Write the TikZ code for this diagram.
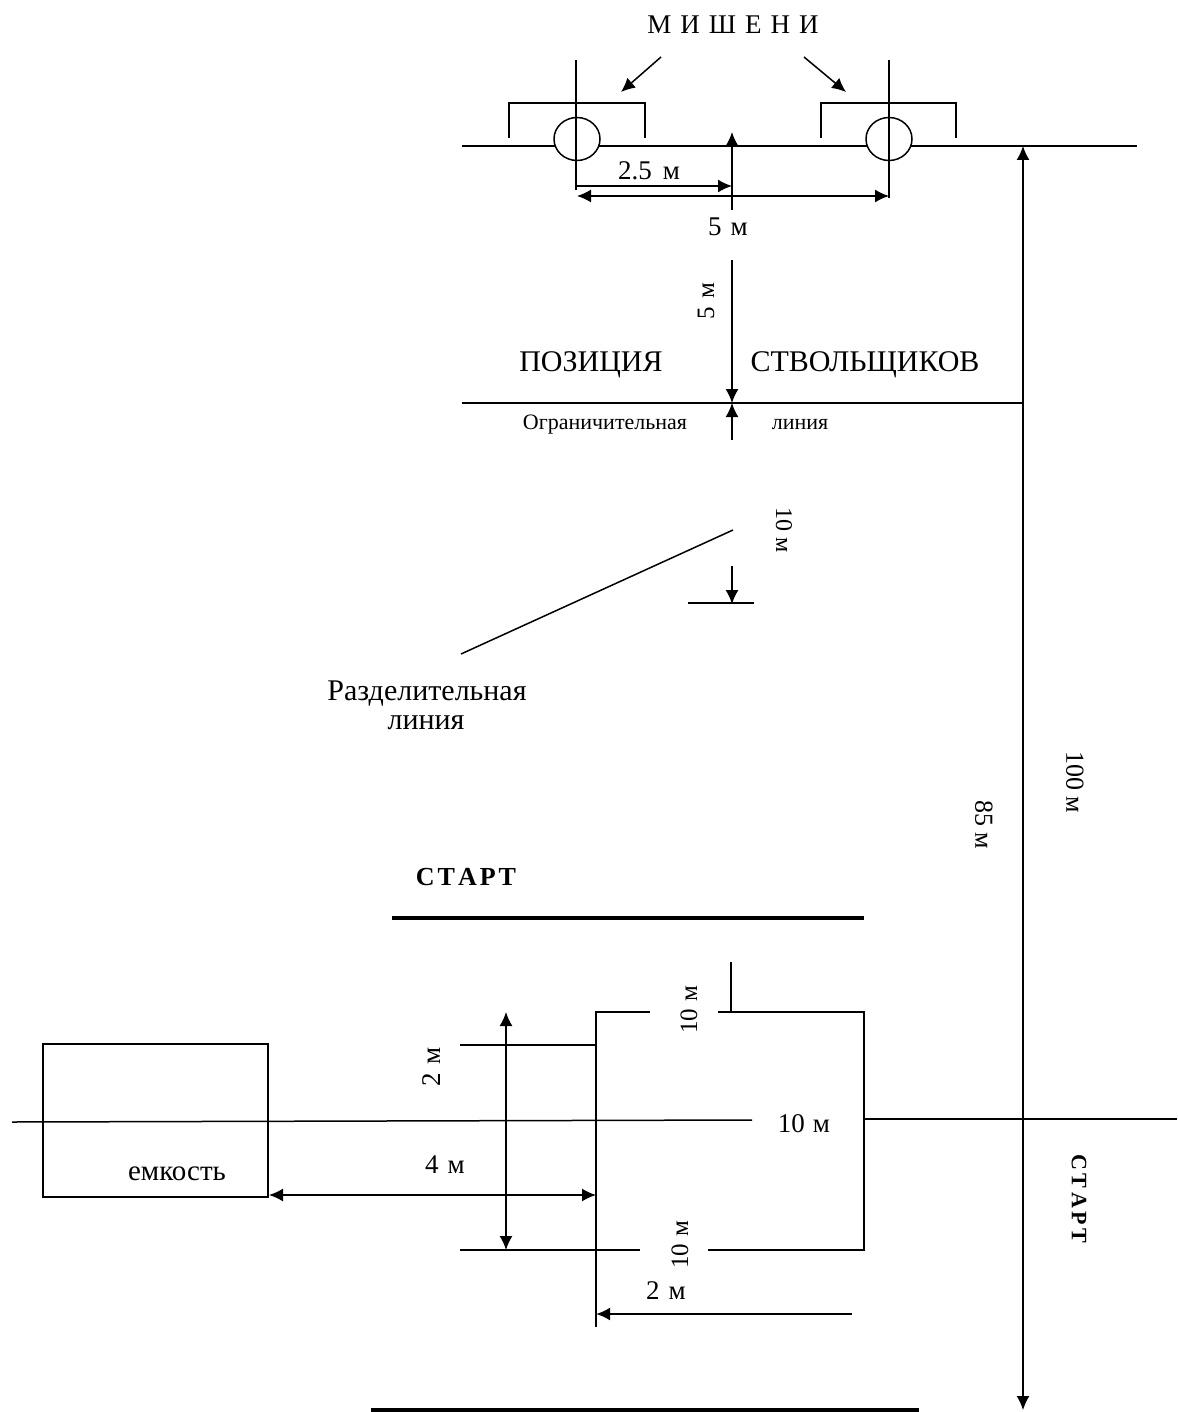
\documentclass[tikz,border=0pt]{standalone}
\usepackage{fontspec}
\setmainfont{Liberation Serif}
\usetikzlibrary{arrows.meta,shapes.geometric}
\newcommand{\gp}{\hspace{9pt}}
\tikzset{
  ln/.style={draw=black,line width=1.5pt},
  thick line/.style={draw=black,line width=3.5pt},
  dim/.style={draw=black,line width=1.5pt},
  tipa/.style={-{Latex[length=14pt,width=13pt]}},
  tipb/.style={{Latex[length=14pt,width=13pt]}-{Latex[length=14pt,width=13pt]}},
  lbl/.style={inner sep=0pt,text=black,font=\fontsize{#1}{#1}\selectfont},
  blbl/.style={inner sep=0pt,text=black,font=\bfseries\fontsize{#1}{#1}\selectfont},
  target/.style={ellipse,draw=black,line width=1.5pt,fill=white,minimum width=46pt,minimum height=43pt,inner sep=0pt},
}
\begin{document}
\begin{tikzpicture}[x=1pt,y=-1pt]
\useasboundingbox (0,0) rectangle (1177,1412);
\fill[white] (0,0) rectangle (1177,1412);
% coordinates
\coordinate (tl0) at (462,146); \coordinate (tl1) at (1137,146);
\coordinate (v1t) at (576,60); \coordinate (v1b) at (576,190);
\coordinate (v2t) at (889,60); \coordinate (v2b) at (889,198);
\coordinate (mid) at (732,132);
% top line and targets
\draw[ln] (tl0) -- (tl1);
\draw[ln] (509,138) -- (509,103) -- (645,103) -- (645,138);
\draw[ln] (821,138) -- (821,103) -- (956,103) -- (956,138);
\node[target] (t1) at (577,139) {};
\node[target] (t2) at (889,139) {};
\draw[ln] (v1t) -- (v1b);
\draw[ln] (v2t) -- (v2b);
% target labels
\node[lbl=27] (mish) at (733,25) {М\hspace{9pt}И\hspace{9pt}Ш\hspace{9pt}Е\hspace{9pt}Н\hspace{9pt}И};
\coordinate (a1s) at (661,57); \coordinate (a1e) at (621,92);
\coordinate (a2s) at (804,57); \coordinate (a2e) at (846,92);
\draw[dim,tipa] (a1s) -- (a1e);
\draw[dim,tipa] (a2s) -- (a2e);
% dims
\coordinate (d25s) at (576,186); \coordinate (d25e) at (732,186);
\draw[dim,tipa] (d25s) -- (d25e);
\coordinate (d5s) at (577,196); \coordinate (d5e) at (889,196);
\draw[dim,tipb] (d5s) -- (d5e);
\coordinate (mb) at (732,210);
\draw[dim,tipa] (mb) -- (mid);
\node[lbl=27] (l25) at (649,171) {2.5\hspace{11pt}м};
\node[lbl=27] (l5) at (728,227) {5\gp м};
% 5 m vertical
\coordinate (v5t) at (732,260); \coordinate (lim) at (732,403);
\draw[dim,tipa] (v5t) -- (lim);
\coordinate (v5b) at (732,440);
\draw[dim,tipa] (v5b) -- (lim);
\node[lbl=25,rotate=90] (l5v) at (706,301) {5\gp м};
\node[lbl=30] (pos) at (591,365) {ПОЗИЦИЯ};
\node[lbl=30] (stv) at (865,365) {СТВОЛЬЩИКОВ};
% limit line
\coordinate (ll0) at (462,403); \coordinate (ll1) at (1023,403);
\draw[ln] (ll0) -- (ll1);
\node[lbl=22] (ogr) at (605,425) {Ограничительная};
\node[lbl=22] (lin) at (800,425) {линия};
% separator
\coordinate (s0) at (461,654); \coordinate (s1) at (733,530);
\draw[ln] (s0) -- (s1);
\coordinate (d10s) at (732,566); \coordinate (d10e) at (732,604);
\draw[dim,tipa] (d10s) -- (d10e);
\coordinate (d10a) at (688,603); \coordinate (d10b) at (754,603);
\draw[ln] (d10a) -- (d10b);
\node[lbl=24,rotate=-90] (l10a) at (784,530) {10 м};
\node[lbl=30] (raz) at (427,694) {Разделительная};
\node[lbl=30] (lin2) at (426,723) {линия};
% start
\node[blbl=26] (st) at (466,877) {С\hspace{3pt}Т\hspace{3pt}А\hspace{3pt}Р\hspace{3pt}Т};
\coordinate (st0) at (392,918); \coordinate (st1) at (864,918);
\draw[thick line,line width=4.5pt] (st0) -- (st1);
% square
\coordinate (q1) at (596,1012); \coordinate (q2) at (596,1327);
\draw[ln,line width=2.2pt] (q2) -- (q1) -- (650,1012);
\draw[ln,line width=2.2pt] (718,1012) -- (864,1012) -- (864,1250) -- (708,1250);
\draw[ln,line width=2.2pt] (460,1250) -- (640,1250);
\draw[ln,line width=2.2pt] (460,1045) -- (596,1045);
\draw[ln] (731,962) -- (731,1012);
\node[lbl=25,rotate=90] (l10b) at (689,1010) {10\hspace{7pt}м};
\node[lbl=25,rotate=90] (l10c) at (680,1245) {10\hspace{7pt}м};
\node[lbl=27] (l10d) at (804,1124) {10\hspace{8pt}м};
\node[lbl=27,rotate=90] (l2a) at (432,1067) {2\gp м};
% vertical dim
\coordinate (d2t) at (506,1012); \coordinate (d2b) at (506,1250);
\draw[dim,tipb] (d2t) -- (d2b);
% centre line
\draw[ln] (12,1122) -- (752,1120);
\draw[ln] (864,1119) -- (1177,1119);
% tank
\node[draw=black,line width=1.5pt,minimum width=225pt,minimum height=153pt,inner sep=0pt] (tank) at (155.5,1120.5) {};
\node[lbl=29] (em) at (177,1174) {емкость};
\coordinate (d4s) at (269,1195); \coordinate (d4e) at (596,1195);
\draw[dim,tipb] (d4s) -- (d4e);
\node[lbl=27] (l4) at (445,1165) {4\gp м};
% 2m
\coordinate (d2s) at (852,1314); \coordinate (d2e) at (596,1314);
\draw[dim,line width=2.2pt,tipa] (d2s) -- (d2e);
\node[lbl=27] (l2b) at (666,1291) {2\gp м};
% bottom line
\coordinate (b0) at (371,1410); \coordinate (b1) at (919,1410);
\draw[thick line] (b0) -- (b1);
% long
\coordinate (lt) at (1023,146); \coordinate (lb) at (1023,1410);
\draw[dim,tipb] (lt) -- (lb);
\node[lbl=26,rotate=-90] (l100) at (1075,782) {100\hspace{6pt}м};
\node[lbl=26,rotate=-90] (l85) at (984,825) {85\hspace{6pt}м};
\node[blbl=22,rotate=-90] (st2) at (1079,1199) {С\,Т\,А\,Р\,Т};
\end{tikzpicture}
\end{document}
